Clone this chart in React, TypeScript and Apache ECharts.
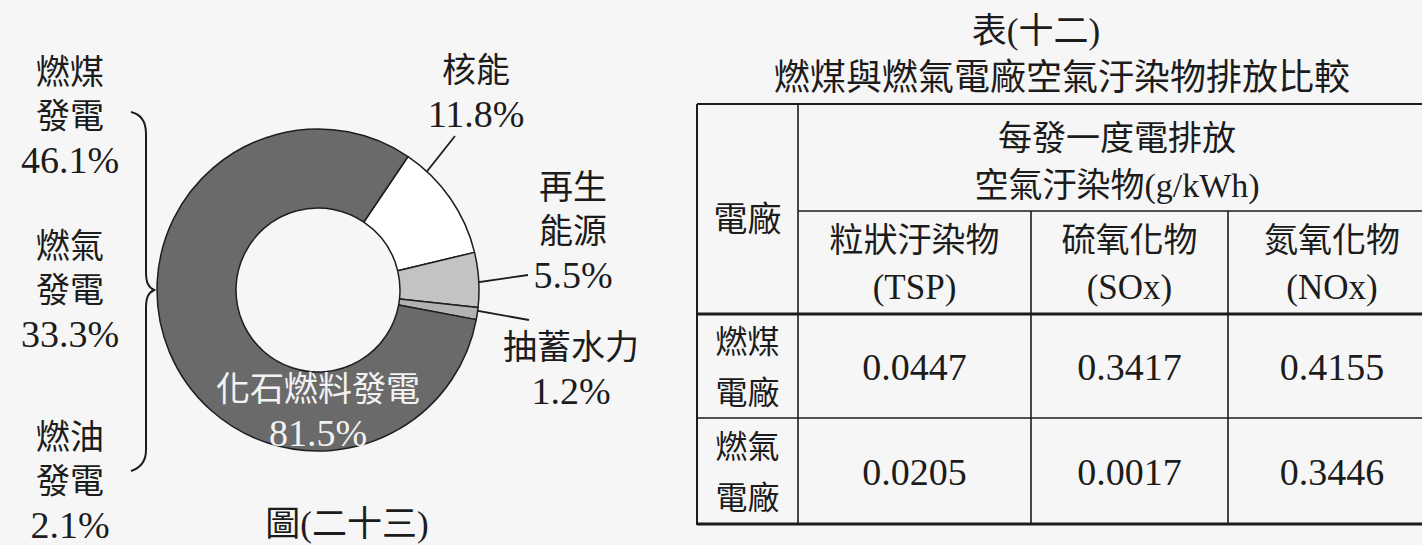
import React, { useEffect, useRef } from 'react';
import * as echarts from 'echarts';

// ---------- data ----------
const sliceNames = ['核能', '再生能源', '抽蓄水力', '化石燃料發電'];
const sliceLabels = ['核能', '再生\n能源', '抽蓄水力', '化石燃料發電'];
const sliceValues = [11.8, 5.5, 1.2, 81.5];

const fossilParts = ['燃煤\n發電', '燃氣\n發電', '燃油\n發電'];
const fossilValues = [46.1, 33.3, 2.1];

const figureCaption = '圖(二十三)';
const tableTitle = '表(十二)';
const tableSubtitle = '燃煤與燃氣電廠空氣汙染物排放比較';
const plantHeader = '電廠';
const emissionHeader = ['每發一度電排放', '空氣汙染物(g/kWh)'];
const pollutantNames = ['粒狀汙染物', '硫氧化物', '氮氧化物'];
const pollutantCodes = ['(TSP)', '(SOx)', '(NOx)'];
const plantNames = ['燃煤\n電廠', '燃氣\n電廠'];
const coalEmissions = [0.0447, 0.3417, 0.4155];
const gasEmissions = [0.0205, 0.0017, 0.3446];

// ---------- styling ----------
const SERIF = "'Liberation Serif', 'Noto Sans CJK TC', serif";
const INK = '#1c1c1c';
const sliceColors = ['#ffffff', '#c3c3c3', '#b2b2b2', '#6a6a6a'];

const BRACE_D =
  'M131,112 C140,114 146,120 146,134 L146,272 C146,282 148,287 154,290 C148,293 146,298 146,308 L146,450 C146,462 140,468 131,471';
echarts.graphic.registerShape('brace', echarts.graphic.extendPath(BRACE_D, {}));

const richStyles = {
  c: { fontSize: 34, lineHeight: 44, fontFamily: SERIF, color: INK },
  n: { fontSize: 38, lineHeight: 44, fontFamily: SERIF, color: INK },
  cw: { fontSize: 34, lineHeight: 43, fontFamily: SERIF, color: '#f2f2f2' },
  nw: { fontSize: 38, lineHeight: 43, fontFamily: SERIF, color: '#f2f2f2' },
};

const labelPos: [number, number][] = [
  [476, 92],
  [573, 231],
  [571, 369],
  [318, 411],
];

function txt(text: string, x: number, y: number, fontSize: number, extra: any = {}) {
  return {
    type: 'text',
    x,
    y,
    silent: true,
    style: {
      text,
      fontSize,
      fontFamily: SERIF,
      fill: INK,
      align: 'center',
      verticalAlign: 'middle',
      ...extra,
    },
  };
}

function line(x1: number, y1: number, x2: number, y2: number, w: number) {
  return {
    type: 'line',
    silent: true,
    shape: { x1, y1, x2, y2 },
    style: { stroke: INK, lineWidth: w },
  };
}

export default function App() {
  const ref = useRef<HTMLDivElement>(null);

  useEffect(() => {
    if (!ref.current) return;
    const chart = echarts.init(ref.current, null, { renderer: 'svg' });

    const graphics: any[] = [];

    // left breakdown of fossil fuels
    const leftY = [116, 290, 481];
    fossilParts.forEach((p, i) => {
      const rich = p
        .split('\n')
        .map((s) => `{c|${s}}`)
        .concat([`{n|${fossilValues[i].toFixed(1)}%}`])
        .join('\n');
      graphics.push({
        type: 'text',
        x: 70,
        y: leftY[i],
        silent: true,
        style: {
          text: rich,
          rich: {
            c: { fontSize: 34, lineHeight: 44, fontFamily: SERIF, fill: INK },
            n: { fontSize: 38, lineHeight: 44, fontFamily: SERIF, fill: INK },
          },
          align: 'center',
          verticalAlign: 'middle',
          fill: INK,
        },
      });
    });

    graphics.push({
      type: 'brace',
      x: 0,
      y: 0,
      silent: true,
      style: { stroke: INK, fill: 'none', lineWidth: 2 },
    });

    // leader lines
    graphics.push(line(413, 189, 455, 136, 1.8));
    graphics.push(line(452, 286, 528, 275, 1.8));
    graphics.push(line(451, 306, 529, 320, 1.8));

    graphics.push(txt(figureCaption, 347, 524, 35));

    // table
    graphics.push(txt(tableTitle, 1036, 31, 35));
    graphics.push(txt(tableSubtitle, 1062, 78, 36));

    const colX = [697, 798, 1031, 1228, 1436];
    const rowY = [104, 211, 314, 418, 524];
    const right = 1436;

    graphics.push(line(colX[0], rowY[0], right, rowY[0], 2));
    graphics.push(line(colX[0], rowY[0], colX[0], rowY[4] + 1, 2));
    graphics.push(line(colX[1], rowY[0], colX[1], rowY[4], 1.6));
    graphics.push(line(colX[2], rowY[1], colX[2], rowY[4], 1.6));
    graphics.push(line(colX[3], rowY[1], colX[3], rowY[4], 1.6));
    graphics.push(line(colX[1], rowY[1], right, rowY[1], 1.6));
    graphics.push(line(colX[0], rowY[2], right, rowY[2], 3));
    graphics.push(line(colX[0], rowY[3], right, rowY[3], 1.6));
    graphics.push(line(colX[0], rowY[4], right, rowY[4], 3));

    graphics.push(txt(plantHeader, (colX[0] + colX[1]) / 2, 219, 34));
    const mergedCx = (colX[1] + right) / 2;
    graphics.push(txt(emissionHeader[0], mergedCx, 138, 34));
    graphics.push(txt(emissionHeader[1], mergedCx, 185, 34));

    pollutantNames.forEach((n, j) => {
      const cx = (colX[j + 1] + colX[j + 2]) / 2;
      graphics.push(txt(n, cx, 240, 34));
      graphics.push(txt(pollutantCodes[j], cx, 287, 35));
    });

    const rows = [coalEmissions, gasEmissions];
    rows.forEach((vals, r) => {
      const cy = (rowY[r + 2] + rowY[r + 3]) / 2 + 1;
      graphics.push(
        txt(plantNames[r], (colX[0] + colX[1]) / 2, cy, 32, { lineHeight: 51 })
      );
      vals.forEach((v, j) => {
        const cx = (colX[j + 1] + colX[j + 2]) / 2;
        graphics.push(txt(v.toFixed(4), cx, cy, 38));
      });
    });

    const option: any = {
      animation: false,
      backgroundColor: '#f6f6f6',
      series: [
        {
          type: 'pie',
          center: [318, 290],
          radius: [82, 161],
          startAngle: 56,
          clockwise: true,
          avoidLabelOverlap: false,
          silent: true,
          itemStyle: { borderColor: '#1e1e1e', borderWidth: 1.5 },
          label: {
            show: true,
            position: 'outside',
            formatter: (p: any) => {
              const i = p.dataIndex;
              const white = i === 3;
              const parts = sliceLabels[i]
                .split('\n')
                .map((s) => `{${white ? 'cw' : 'c'}|${s}}`);
              parts.push(`{${white ? 'nw' : 'n'}|${sliceValues[i].toFixed(1)}%}`);
              return parts.join('\n');
            },
            rich: richStyles,
          },
          labelLine: { show: false },
          labelLayout: (params: any) => ({
            x: labelPos[params.dataIndex][0],
            y: labelPos[params.dataIndex][1],
            align: 'center',
            verticalAlign: 'middle',
          }),
          data: sliceNames.map((n, i) => ({
            name: n,
            value: sliceValues[i],
            itemStyle: { color: sliceColors[i] },
          })),
        },
      ],
      graphic: graphics,
    };

    chart.setOption(option);
    return () => chart.dispose();
  }, []);

  return (
    <div
      ref={ref}
      style={{ position: 'absolute', left: 0, top: 0, width: 1422, height: 545 }}
    />
  );
}
